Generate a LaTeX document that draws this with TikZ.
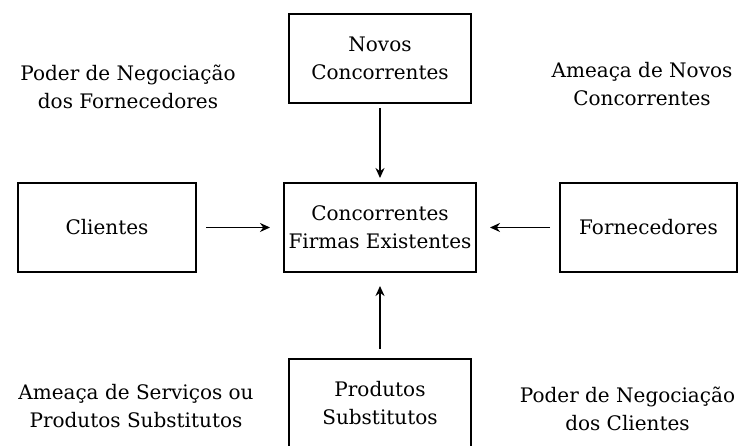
\documentclass[tikz,border=0pt]{standalone}
\usepackage{fontspec}
\setmainfont{DejaVu Serif}
\usetikzlibrary{arrows.meta,positioning}
\tikzset{
    %Define standard arrow tip
    >={Stealth[length=10pt,width=9pt]},
    %Define style for boxes
    block/.style={
           rectangle,
           draw=black, line width=1.6pt,
           outer sep=0pt,
           minimum height=89pt,
           font=\fontsize{20}{28}\selectfont,
           align=center},
    annote/.style={
          font=\fontsize{20}{28}\selectfont,
          align=center
    },
    % Define arrow style
    arrow/.style={
           ->,
           line width=1.6pt,
           shorten <=10pt,
           shorten >=14pt,},
}
\begin{document}
\begin{tikzpicture}[x=1pt,y=1pt]
  \clip (0,0) rectangle (745,446);
  \node[block, minimum width=192pt] (conc) at (380,218.5) {Concorrentes\\Firmas Existentes};
  \node[block, minimum width=182pt, above=80pt of conc] (novos) {Novos\\Concorrentes};
  \node[block, minimum width=182pt, below=87pt of conc] (subst) {Produtos\\Substitutos};
  \node[block, minimum width=178pt, left=88pt of conc]  (cli) {Clientes};
  \node[block, minimum width=177pt, right=84pt of conc] (forn) {Fornecedores};

  % forces
  \node[annote] (podforn) at (128,359) {Poder de Negociação\\dos Fornecedores};
  \node[annote] (ameanov) at (642,362) {Ameaça de Novos\\Concorrentes};
  \node[annote] (ameasub) at (136,40) {Ameaça de Serviços ou\\Produtos Substitutos};
  \node[annote] (podcli) at (627.5,37) {Poder de Negociação\\dos Clientes};

  \path (cli) edge[arrow] (conc);
  \path (forn) edge[arrow] (conc);
  \path (novos) edge[arrow, shorten <=5pt, shorten >=5pt] (conc);
  \path (subst) edge[arrow] (conc);
\end{tikzpicture}
\end{document}
